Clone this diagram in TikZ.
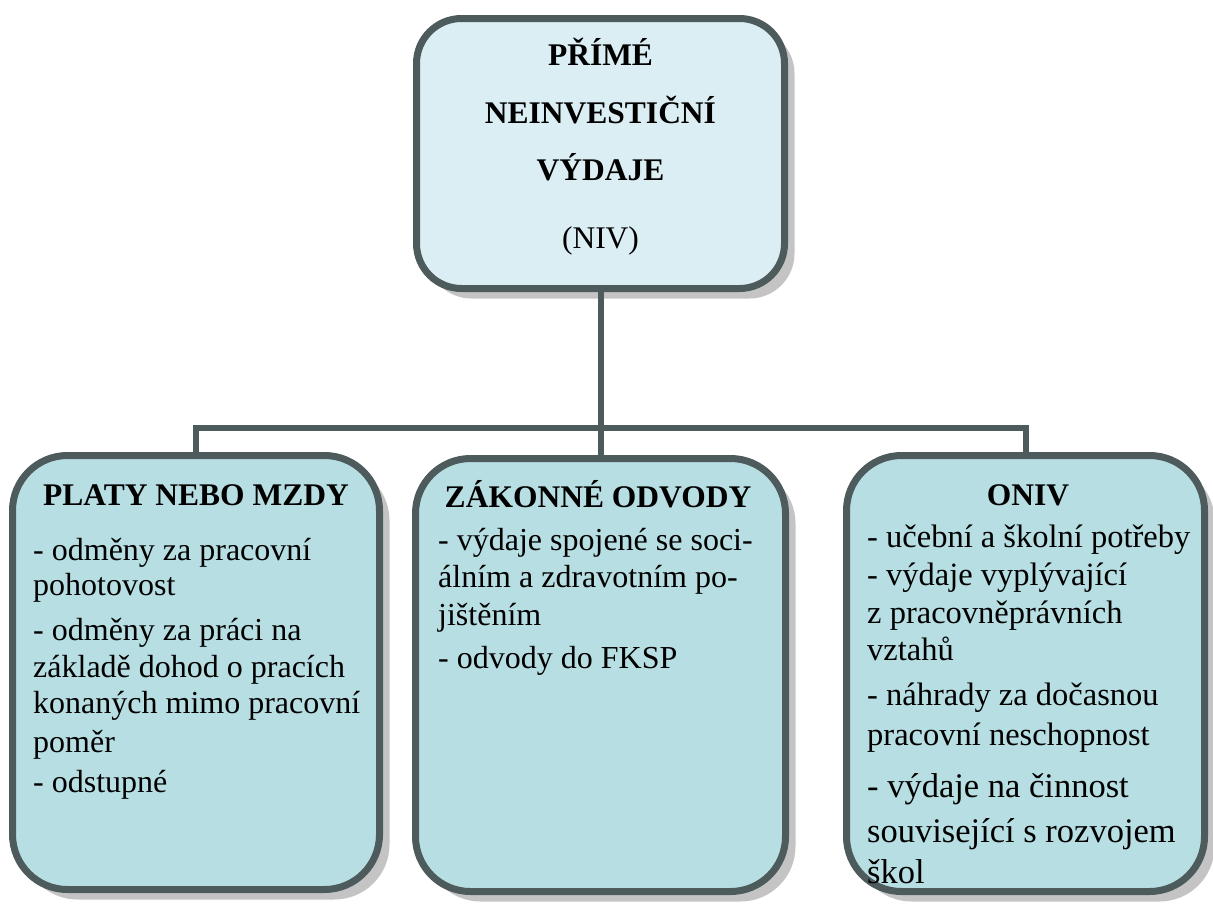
\documentclass[tikz,border=0pt]{standalone}
\usepackage{fontspec}
\setmainfont{Liberation Serif}
\usetikzlibrary{shadows}
\definecolor{edge}{RGB}{78,91,92}
\definecolor{topfill}{RGB}{218,238,243}
\definecolor{boxfill}{RGB}{183,222,226}
\definecolor{shade}{RGB}{196,196,196}
\tikzset{
  card/.style={draw=edge, line width=7pt, rounded corners=55pt, fill=boxfill,
    inner sep=0pt, outer sep=0pt,
    drop shadow={shadow xshift=10pt, shadow yshift=-10pt, fill=shade, opacity=1}},
  link/.style={draw=edge, line width=6pt},
  body/.style={anchor=base west, inner sep=0pt, font=\fontsize{32}{38}\selectfont},
  bodyb/.style={anchor=base west, inner sep=0pt, font=\fontsize{32.5}{38}\selectfont},
  bodyc/.style={anchor=base west, inner sep=0pt, font=\fontsize{34.5}{40}\selectfont},
  head/.style={anchor=base, inner sep=0pt, font=\fontsize{31.5}{38}\selectfont\bfseries},
  plain/.style={anchor=base, inner sep=0pt, font=\fontsize{31.5}{38}\selectfont},
}
\begin{document}
\begin{tikzpicture}[x=1pt,y=-1pt]
\useasboundingbox (0,0) rectangle (1213,908);

% boxes
\node[card, fill=topfill, rounded corners=45pt, minimum width=368pt, minimum height=270pt] (top) at (600.5,153.5) {};
\node[card, minimum width=367pt, minimum height=434pt] (b1) at (196,672.5) {};
\node[card, minimum width=370pt, minimum height=433pt] (b2) at (600.5,675) {};
\node[card, minimum width=358pt, minimum height=436pt] (b3) at (1025.5,673.5) {};

% connectors
\coordinate (hub) at (600.5,428);
\draw[link] (top.south) -- (hub);
\draw[link] (b1.north) |- (hub) -| (b3.north);
\draw[link] (hub) -- (b2.north);

% top box text
\node[head] (t1) at (600.5,65) {PŘÍMÉ};
\node[head] (t2) at (600.5,123) {NEINVESTIČNÍ};
\node[head] (t3) at (600.5,180) {VÝDAJE};
\node[plain] (t4) at (600.5,248) {(NIV)};

% box 1
\node[head] (h1) at (196,505) {PLATY NEBO MZDY};
\node[body] (a1) at (33,560) {- odměny za pracovní};
\node[body] (a2) at (33,595) {pohotovost};
\node[body] (a3) at (33,640) {- odměny za práci na};
\node[body] (a4) at (33,677) {základě dohod o pracích};
\node[body] (a5) at (33,713) {konaných mimo pracovní};
\node[body] (a6) at (33,752) {poměr};
\node[body] (a7) at (33,792) {- odstupné};

% box 2
\node[head] (h2) at (598,507) {ZÁKONNÉ ODVODY};
\node[body] (c1) at (438,550) {- výdaje spojené se soci-};
\node[body] (c2) at (438,587) {álním a zdravotním po-};
\node[body] (c3) at (438,625) {jištěním};
\node[body] (c4) at (438,668) {- odvody do FKSP};

% box 3
\node[head] (h3) at (1028,505) {ONIV};
\node[bodyb] (d1) at (867,547) {- učební a školní potřeby};
\node[bodyb] (d2) at (867,585) {- výdaje vyplývající};
\node[bodyb] (d3) at (867,623) {z pracovněprávních};
\node[bodyb] (d4) at (867,660) {vztahů};
\node[bodyb] (d5) at (867,705) {- náhrady za dočasnou};
\node[bodyb] (d6) at (867,745) {pracovní neschopnost};
\node[bodyc] (d7) at (867,797) {- výdaje na činnost};
\node[bodyc] (d8) at (867,842) {související s rozvojem};
\node[bodyc] (d9) at (867,883) {škol};
\end{tikzpicture}
\end{document}
